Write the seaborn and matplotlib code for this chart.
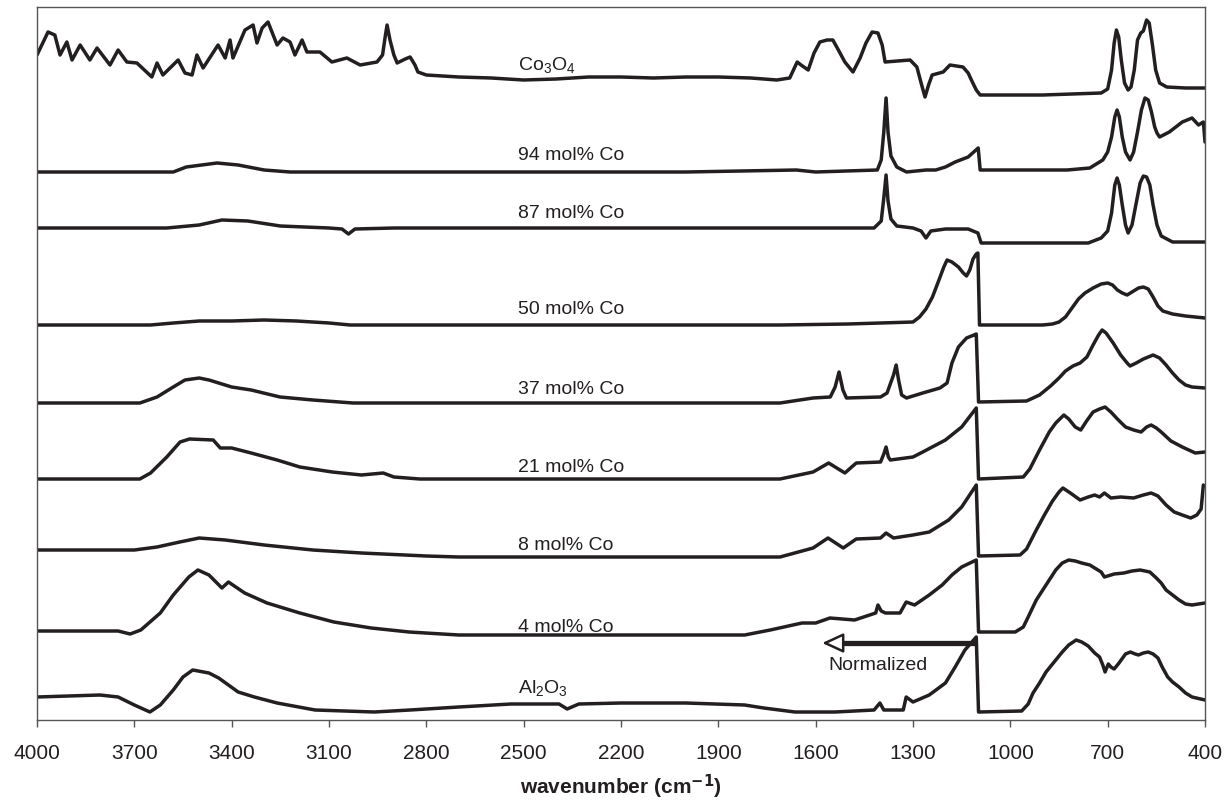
import numpy as np
import pandas as pd
import matplotlib
matplotlib.use("Agg")
import matplotlib.pyplot as plt
import seaborn as sns

# ---------------- data ----------------
samples = ["Co$_3$O$_4$", "94 mol% Co", "87 mol% Co", "50 mol% Co", "37 mol% Co",
           "21 mol% Co", "8 mol% Co", "4 mol% Co", "Al$_2$O$_3$"]

# vertical stacking offsets of each spectrum (arb. units)
offsets = [625, 548, 477, 395, 317, 241, 163, 87, 8]

# each spectrum: (wavenumber cm-1, intensity above its own baseline)
spec_co3o4 = [(4000, 40), (3966, 63), (3945, 60), (3929, 40), (3908, 53), (3892, 35), (3867, 50),
              (3837, 35), (3815, 47), (3775, 30), (3750, 45), (3723, 33), (3692, 32), (3646, 18),
              (3630, 32), (3612, 20), (3565, 35), (3544, 22), (3522, 20), (3507, 40), (3488, 27),
              (3442, 50), (3420, 37), (3405, 55), (3396, 37), (3359, 65), (3334, 70), (3322, 52),
              (3306, 67), (3288, 73), (3260, 50), (3242, 57), (3220, 53), (3205, 40), (3183, 55),
              (3168, 43), (3128, 43), (3091, 33), (3045, 37), (3004, 30), (2952, 33), (2935, 40),
              (2926, 60), (2921, 70), (2912, 55), (2900, 40), (2890, 32), (2865, 36), (2850, 38),
              (2835, 30), (2826, 23), (2800, 20), (2700, 18), (2600, 17), (2500, 15), (2400, 16),
              (2300, 18), (2200, 18), (2100, 17), (2000, 18), (1900, 18), (1800, 17), (1720, 15),
              (1680, 17), (1657, 33), (1645, 30), (1623, 25), (1605, 42), (1587, 53), (1565, 55),
              (1547, 55), (1530, 45), (1510, 33), (1485, 23), (1463, 37), (1445, 52), (1426, 63),
              (1408, 62), (1395, 50), (1386, 33), (1309, 35), (1288, 28), (1275, 12), (1263, -2),
              (1252, 10), (1241, 20), (1207, 23), (1186, 30), (1146, 28), (1130, 22), (1120, 15),
              (1105, 5), (1093, 0), (900, 0), (720, 2), (700, 6), (688, 25), (680, 52), (673, 65),
              (666, 58), (658, 35), (648, 12), (637, 5), (628, 8), (618, 25), (608, 55), (598, 62),
              (590, 64), (580, 75), (572, 72), (562, 50), (552, 25), (540, 12), (518, 8),
              (460, 7), (400, 7)]

spec_94 = [(4000, 0), (3580, 0), (3540, 5), (3445, 9), (3380, 7), (3300, 2), (3220, 0), (2000, 0),
           (1660, 2), (1600, 0), (1410, 2), (1398, 12), (1390, 40), (1383, 74), (1377, 40),
           (1368, 16), (1350, 5), (1320, 0), (1260, 2), (1230, 2), (1200, 5), (1170, 10),
           (1130, 15), (1099, 24), (1093, 2), (825, 2), (755, 4), (715, 12), (700, 20), (688, 35),
           (678, 55), (671, 62), (664, 55), (655, 35), (645, 20), (631, 12), (620, 20), (608, 40),
           (596, 62), (585, 74), (575, 72), (565, 60), (555, 45), (548, 39), (540, 35), (510, 40),
           (490, 45), (470, 50), (440, 54), (420, 47), (405, 50), (400, 30)]

spec_87 = [(4000, 15), (3600, 15), (3500, 18), (3430, 23), (3350, 22), (3250, 17), (3100, 15),
           (3060, 14), (3040, 9), (3020, 14), (2900, 15), (1420, 15), (1398, 22), (1390, 45),
           (1383, 68), (1377, 42), (1368, 24), (1350, 17), (1300, 15), (1275, 12), (1260, 5),
           (1245, 12), (1200, 14), (1130, 14), (1100, 10), (1090, 0), (760, 0), (720, 5), (700, 12),
           (688, 30), (678, 58), (671, 65), (664, 58), (655, 38), (645, 18), (637, 10), (625, 18),
           (612, 40), (600, 60), (590, 67), (580, 66), (570, 58), (560, 38), (548, 18), (535, 7),
           (500, 1), (400, 1)]

spec_50 = [(4000, 0), (3650, 0), (3580, 2), (3500, 4), (3400, 4), (3300, 5), (3200, 4), (3100, 2),
           (3035, 0), (1710, 0), (1500, 1), (1400, 2), (1300, 3), (1280, 8), (1260, 16), (1240, 28),
           (1220, 45), (1205, 58), (1195, 65), (1180, 63), (1160, 58), (1145, 52), (1135, 49),
           (1125, 55), (1115, 66), (1105, 71), (1100, 72), (1095, 0), (900, 0), (870, 1), (850, 3),
           (830, 8), (810, 17), (790, 26), (770, 32), (745, 37), (720, 41), (700, 42), (685, 40),
           (670, 35), (655, 32), (640, 30), (625, 33), (605, 37), (590, 38), (575, 36), (560, 28),
           (545, 19), (530, 14), (500, 11), (460, 9), (430, 8), (400, 7)]

spec_37 = [(4000, 0), (3683, 0), (3630, 6), (3580, 16), (3544, 23), (3500, 25), (3470, 23),
           (3400, 16), (3340, 13), (3251, 6), (3150, 3), (3026, 0), (1710, 0), (1608, 5), (1555, 6),
           (1540, 16), (1528, 31), (1516, 13), (1505, 5), (1400, 6), (1380, 10), (1360, 28),
           (1352, 38), (1345, 24), (1335, 8), (1320, 5), (1270, 10), (1217, 15), (1195, 20),
           (1180, 40), (1160, 56), (1135, 65), (1112, 68), (1105, 69), (1098, 1), (950, 2),
           (910, 8), (876, 17), (850, 25), (830, 32), (807, 37), (785, 40), (764, 46), (745, 58),
           (728, 68), (717, 73), (705, 70), (683, 60), (660, 48), (640, 40), (631, 37), (612, 40),
           (590, 44), (560, 48), (540, 45), (520, 38), (500, 30), (480, 23), (460, 18), (440, 16),
           (400, 15)]

spec_21 = [(4000, 0), (3683, 0), (3650, 6), (3600, 22), (3559, 37), (3530, 40), (3457, 39),
           (3435, 31), (3400, 31), (3340, 26), (3260, 19), (3190, 12), (3090, 7), (3000, 4),
           (2933, 6), (2900, 2), (2820, 0), (1710, 0), (1608, 7), (1560, 16), (1510, 6), (1475, 16),
           (1400, 17), (1390, 25), (1383, 32), (1376, 22), (1370, 19), (1300, 22), (1270, 27),
           (1200, 39), (1150, 52), (1105, 71), (1098, 0), (960, 2), (940, 10), (910, 29), (880, 47),
           (860, 56), (835, 64), (820, 60), (800, 52), (783, 49), (765, 58), (745, 67), (725, 70),
           (708, 72), (690, 67), (670, 60), (645, 52), (620, 49), (597, 47), (580, 52), (566, 54),
           (550, 51), (535, 47), (505, 38), (470, 32), (430, 26), (400, 27)]

spec_8 = [(4000, 7), (3700, 7), (3630, 10), (3560, 15), (3500, 19), (3420, 17), (3300, 12),
          (3150, 7), (3000, 4), (2800, 1), (2700, 0), (1710, 0), (1608, 9), (1562, 19), (1515, 9),
          (1475, 18), (1400, 19), (1383, 24), (1360, 19), (1300, 22), (1250, 25), (1190, 37),
          (1150, 50), (1105, 72), (1098, 1), (970, 2), (950, 8), (920, 27), (895, 42), (870, 56),
          (850, 65), (838, 69), (815, 64), (785, 57), (760, 60), (740, 62), (725, 60), (710, 64),
          (690, 59), (660, 60), (620, 59), (590, 62), (566, 64), (545, 61), (520, 52), (495, 45),
          (470, 42), (444, 39), (425, 42), (412, 48), (405, 72)]

spec_4 = [(4000, 2), (3750, 2), (3713, -1), (3680, 3), (3620, 20), (3580, 38), (3532, 56),
          (3504, 63), (3470, 58), (3430, 45), (3410, 51), (3360, 40), (3291, 30), (3190, 20),
          (3085, 11), (2970, 5), (2853, 1), (2700, -2), (1819, -2), (1740, 3), (1642, 10),
          (1600, 10), (1556, 15), (1480, 13), (1415, 20), (1408, 28), (1398, 22), (1385, 20),
          (1340, 20), (1321, 31), (1295, 28), (1250, 38), (1210, 48), (1180, 58), (1150, 66),
          (1105, 73), (1098, 1), (985, 1), (960, 6), (945, 16), (920, 33), (900, 43), (880, 53),
          (860, 63), (840, 70), (820, 73), (800, 72), (780, 70), (755, 68), (735, 64), (720, 61),
          (710, 56), (700, 57), (680, 59), (650, 60), (625, 62), (600, 63), (585, 62), (570, 61),
          (550, 55), (535, 50), (520, 43), (500, 38), (480, 33), (460, 29), (440, 28), (400, 30)]

spec_al = [(4000, 15), (3806, 17), (3750, 15), (3700, 7), (3652, 0), (3620, 7), (3580, 22),
           (3550, 35), (3520, 42), (3470, 39), (3440, 34), (3380, 20), (3330, 15), (3260, 9),
           (3143, 2), (2961, 0), (2850, 2), (2700, 5), (2539, 8), (2391, 8), (2366, 3), (2330, 8),
           (2200, 9), (2000, 9), (1819, 7), (1760, 4), (1664, 0), (1540, 0), (1420, 2), (1402, 9),
           (1390, 2), (1330, 2), (1321, 15), (1300, 10), (1250, 17), (1200, 29), (1170, 45),
           (1140, 62), (1105, 75), (1098, 0), (965, 1), (945, 8), (930, 19), (910, 29), (890, 40),
           (860, 52), (840, 60), (820, 67), (797, 72), (780, 70), (760, 66), (740, 59), (725, 55),
           (715, 47), (708, 40), (698, 48), (690, 45), (680, 43), (665, 49), (645, 58), (630, 60),
           (615, 58), (605, 57), (590, 59), (575, 60), (560, 58), (545, 54), (532, 45), (515, 35),
           (500, 30), (480, 25), (460, 19), (440, 15), (400, 12)]

spectra = [spec_co3o4, spec_94, spec_87, spec_50, spec_37, spec_21, spec_8, spec_4, spec_al]

# label anchor heights (same units as the stacked signal)
label_y = [655, 564, 506, 411, 330, 253, 174, 92, 32]
label_wn = 2517

x_ticks = [4000, 3700, 3400, 3100, 2800, 2500, 2200, 1900, 1600, 1300, 1000, 700, 400]

# ---------------- build long table ----------------
rows = []
for name, off, spec in zip(samples, offsets, spectra):
    for k, (w, v) in enumerate(spec):
        rows.append({"sample": name, "order": k, "wavenumber": w, "signal": off + v})
df = pd.DataFrame(rows)

# ---------------- plot ----------------
sns.set_style("white")
plt.rcParams["font.family"] = ["Liberation Sans", "DejaVu Sans"]
plt.rcParams["mathtext.default"] = "regular"

fig = plt.figure(figsize=(12.24, 8.0), dpi=100)
ax = fig.add_axes([37 / 1224, 1 - 720 / 800, (1205 - 37) / 1224, (720 - 7) / 800])

ink = "#231f20"
sns.lineplot(data=df, x="wavenumber", y="signal", hue="sample", units="sample",
             palette=[ink] * len(samples), legend=False, sort=False, estimator=None,
             linewidth=2.5, ax=ax)
for ln in ax.lines:
    ln.set_solid_joinstyle("round")

ax.set_xlim(4000, 400)
ax.set_ylim(0, 713)
ax.set_xticks(x_ticks)
ax.set_xticklabels([str(t) for t in x_ticks], fontsize=15, color=ink)
ax.set_yticks([])
ax.set_ylabel("")
ax.tick_params(axis="x", direction="out", length=5, width=1, color="#555555", pad=12, bottom=True)
for sp in ax.spines.values():
    sp.set_color("#555555")
    sp.set_linewidth(1.0)
ax.set_xlabel("wavenumber (cm$^{\\mathbf{-1}}$)", fontsize=15, fontweight="bold", labelpad=7,
              color=ink)

for name, yl in zip(samples, label_y):
    ax.text(label_wn, yl, name, fontsize=14, color=ink, ha="left", va="center")

# "Normalized" arrow
ax.plot([1109, 1527], [77, 77], color=ink, lw=3.8, solid_capstyle="butt")
ax.annotate("", xy=(1580, 77), xytext=(1525, 77),
            arrowprops=dict(arrowstyle="-|>,head_length=1.3,head_width=0.6", mutation_scale=10,
                            lw=1.8, fc="white", ec=ink, shrinkA=0, shrinkB=0))
ax.text(1562, 55, "Normalized", fontsize=14, color=ink, ha="left", va="center")

fig.savefig("out.png", dpi=100)
